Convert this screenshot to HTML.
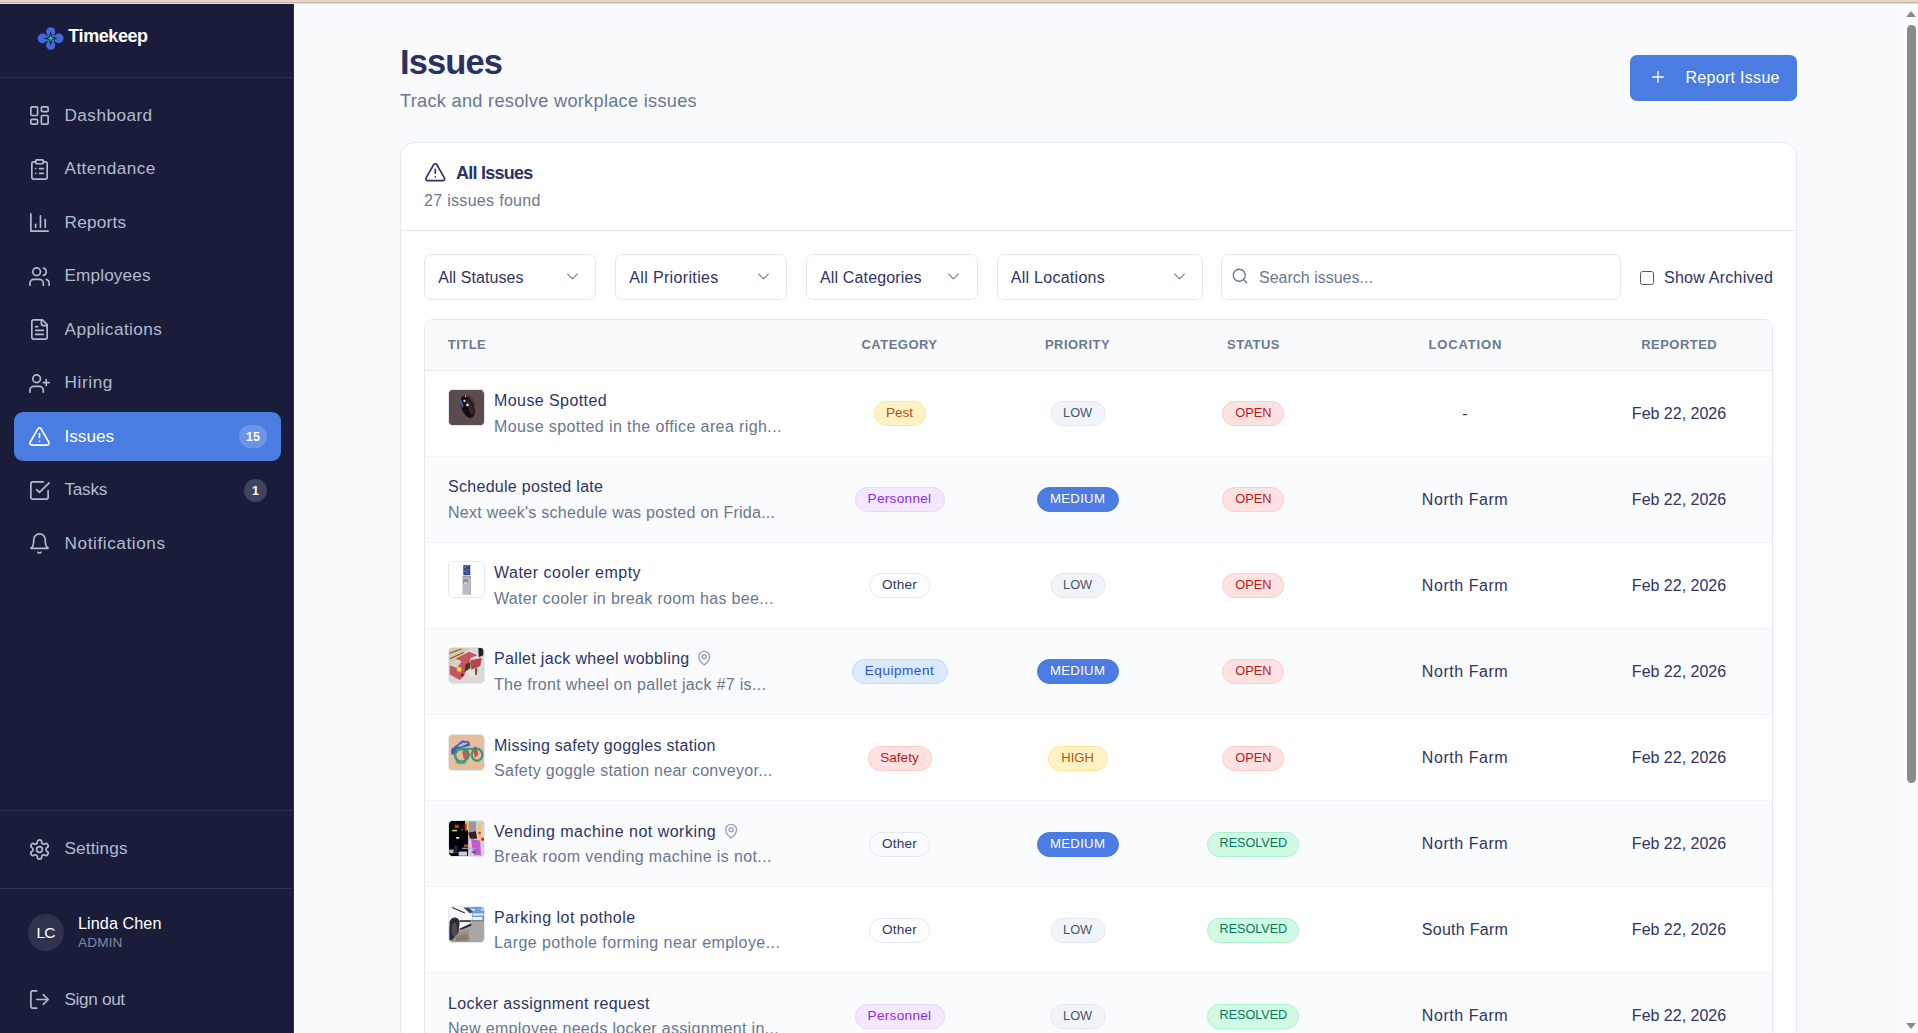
<!DOCTYPE html>
<html lang="en">
<head>
<meta charset="utf-8">
<title>Issues - Timekeep</title>
<style>
*{box-sizing:border-box;margin:0;padding:0}
html,body{width:1918px;height:1033px;overflow:hidden}
body{position:relative;background:#f8fafc;font-family:"Liberation Sans","DejaVu Sans",sans-serif;color:#2e3563}
svg{display:block}
.ic{fill:none;stroke:currentColor;stroke-width:1.75;stroke-linecap:round;stroke-linejoin:round}
.strip{position:absolute;left:0;top:0;width:1918px;height:4px;background:#e3d6c6}
.strip i{position:absolute;left:0;top:2px;width:100%;height:1px;background:#c4b8a8}
.strip b{position:absolute;left:0;top:3px;width:100%;height:1px;background:#e9dccb}
.side{position:absolute;left:0;top:4px;width:294px;height:1029px;background:#1a1d39;color:#b2bbcf}
.side .edge{position:absolute;left:293px;top:0;width:2px;height:1029px;background:linear-gradient(90deg,#272b46 50%,#fff 50%)}
.logo{position:absolute;left:0;top:0;width:294px;height:74px;border-bottom:1px solid #2d3150}
.logo svg{position:absolute;left:37px;top:22px}
.logo span{position:absolute;left:68.3px;top:20.5px;font-size:18px;line-height:22px;font-weight:700;color:#fff;letter-spacing:-0.42px}
.nav{position:absolute;left:14px;width:267px;height:49px;border-radius:9px}
.nav svg{position:absolute;left:14px;top:13px;width:23px;height:23px}
.nav span{position:absolute;left:50.5px;top:12.5px;font-size:17.2px;line-height:22px;white-space:nowrap}
.nav.act{background:#4a7ce2;color:#fff}
.nav em{position:absolute;right:14px;top:13px;height:23px;min-width:23px;border-radius:12px;font-style:normal;font-weight:700;font-size:12.5px;line-height:24px;text-align:center;color:#fff;padding:0 7px}
.sep{position:absolute;left:0;width:294px;height:1px;background:#2d3150}
.ava{position:absolute;left:28px;top:910px;width:36px;height:37px;border-radius:50%;background:#30334d;color:#fff;font-size:15.5px;letter-spacing:-1px;text-indent:-1px;line-height:37px;text-align:center}
.uname{position:absolute;left:78px;top:908px;font-size:16.2px;line-height:22px;color:#fff;white-space:nowrap;letter-spacing:.07px}
.urole{position:absolute;left:78px;top:930px;font-size:13.6px;line-height:18px;color:#8089a0;white-space:nowrap;letter-spacing:.16px}
.sb{position:absolute;left:1903px;top:4px;width:15px;height:1029px;background:#fcfcfc}
.sb .thumb{position:absolute;left:4px;top:21px;width:9px;height:758px;border-radius:5px;background:#8b8b8b}
.sb .up{position:absolute;left:2.8px;top:6.8px;width:0;height:0;border-left:5.8px solid transparent;border-right:5.8px solid transparent;border-bottom:6.2px solid #8b8b8b}
.sb .dn{position:absolute;left:2.8px;top:1019px;width:0;height:0;border-left:5.8px solid transparent;border-right:5.8px solid transparent;border-top:6.2px solid #8b8b8b}
h1{position:absolute;left:400px;top:40.5px;font-size:34.5px;line-height:42px;font-weight:700;color:#2b3263;letter-spacing:-0.9px;white-space:nowrap}
.sub{position:absolute;left:400px;top:88.7px;font-size:18.2px;line-height:24px;color:#68778f;white-space:nowrap;letter-spacing:.28px}
.btn{position:absolute;left:1630px;top:55px;width:167px;height:46px;border-radius:7px;background:#4a7ce2;color:#fff}
.btn svg{position:absolute;left:18.5px;top:13.3px;width:18px;height:18px}
.btn span{position:absolute;left:55.5px;top:12px;font-size:16px;line-height:22px;white-space:nowrap;letter-spacing:.3px}
.card{position:absolute;left:400px;top:142px;width:1397px;height:1000px;background:#fff;border:1px solid #e2e8f0;border-radius:14px}
.chead{position:absolute;left:0;top:0;width:1395px;height:88px;border-bottom:1px solid #e2e8f0}
.chead svg{position:absolute;left:22.5px;top:17.8px;width:22.5px;height:22.5px;color:#2b3263}
.chead h2{position:absolute;left:55px;top:18px;font-size:18px;line-height:24px;font-weight:700;color:#2b3263;white-space:nowrap;letter-spacing:-.75px}
.chead p{position:absolute;left:23px;top:47px;font-size:16px;line-height:22px;color:#68778f;white-space:nowrap;letter-spacing:.31px}
.sel{position:absolute;top:111px;height:46px;border:1px solid #e2e8f0;border-radius:7px;background:#fff}
.sel span{position:absolute;left:13px;top:12px;font-size:16px;line-height:22px;color:#2e3563;white-space:nowrap}
.sel svg{position:absolute;right:13.3px;top:12.3px;width:19px;height:19px;color:#7a849c}
.srch{position:absolute;left:820px;top:111px;width:400px;height:46px;border:1px solid #e2e8f0;border-radius:7px;background:#fff}
.srch svg{position:absolute;left:9px;top:12px;width:18px;height:18px;color:#68778f}
.srch span{position:absolute;left:37px;top:12px;font-size:16px;line-height:22px;color:#68778f;white-space:nowrap}
.cb{position:absolute;left:1238.5px;top:128px;width:14px;height:14px;border:1.2px solid #555b66;border-radius:2.5px;background:#fff}
.cbl{position:absolute;left:1263px;top:124px;font-size:16px;line-height:22px;color:#2e3563;white-space:nowrap;letter-spacing:.25px}
.tbl{position:absolute;left:23px;top:176px;width:1349px;height:900px;border:1px solid #e2e8f0;border-radius:9px;overflow:hidden}
.th{position:absolute;left:0;top:0;width:1347px;height:51px;background:#f8fafc;border-bottom:1px solid #e2e8f0}
.th span{position:absolute;top:15.7px;font-size:13px;line-height:18px;font-weight:700;letter-spacing:0.47px;color:#6a7990;white-space:nowrap;transform:translateX(-50%)}
.row{position:absolute;left:0;width:1347px;height:86px;border-bottom:1px solid #f0f4f8;background:#fff}
.row.alt{background:#fafbfd}
.row .im{position:absolute;left:23px;top:18px;width:37px;height:37px;border-radius:5px;overflow:hidden;border:1px solid #e2e8f0}
.row .t{position:absolute;top:19px;font-size:16px;line-height:22px;color:#2e3563;white-space:nowrap}
.row .d{position:absolute;top:45px;font-size:16px;line-height:22px;color:#68778f;white-space:nowrap}
.row .t svg{display:inline-block;vertical-align:-2.6px;margin-left:6.3px;width:16.3px;height:16.3px;color:#94a1b6;stroke-width:2}
.l0{left:23px}.l1{left:69px}
.pill{position:absolute;top:30px;height:25px;border-radius:13px;border:1px solid;font-size:13.6px;line-height:21.6px;padding:0;text-align:center;white-space:nowrap;transform:translateX(-50%)}
.c1{left:474.5px}.c2{left:652.6px}.c3{left:828.4px}
.loc{position:absolute;top:32px;left:1040px;transform:translateX(-50%);font-size:16px;line-height:22px;white-space:nowrap}
.dt{position:absolute;top:32px;left:1254px;transform:translateX(-50%);font-size:16px;line-height:22px;white-space:nowrap}
.pest,.high{background:#fef3c7;border-color:#fde68a;color:#b45309}
.pers{background:#f3e8ff;border-color:#e9d5ff;color:#8a2be2}
.oth{background:transparent;border-color:#e2e8f0;color:#2e3563}
.equ{background:#dbeafe;border-color:#bfdbfe;color:#2a52d6}
.saf,.open{background:#fee2e2;border-color:#fecaca;color:#b91c1c}
.low{background:#f1f5f9;border-color:#e2e8f0;color:#475569}
.med{background:#4a7ce2;border-color:#4a7ce2;color:#fff}
.res{background:#d1fae5;border-color:#a7f3d0;color:#047857}
.pest{width:52px}.pers{width:90px;letter-spacing:.3px}.oth{width:61.5px;letter-spacing:.2px}.equ{width:96px;letter-spacing:.5px}.saf{width:64px}
.low{width:55px;font-size:12.8px}.med{width:82px;font-size:13.2px;letter-spacing:.3px}.high{width:60px;font-size:13px}
.open{width:62px;font-size:12.8px}.res{width:92px;font-size:12.6px}
.im1{background:#5c4b4d}.im3{background:#dbd8d6}.im4{background:#e4be9d}.im5{background:#3a3038}.im6{background:#b4b2b0}
.im1 svg,.im3 svg,.im4 svg,.im5 svg,.im6 svg{filter:blur(.45px)}
</style>
</head>
<body>
<div class="strip"><i></i><b></b></div>
<div class="side">
<div class="logo"><svg width="27" height="25" viewBox="0 0 27 25"><g fill="#4169e1"><circle cx="13.7" cy="5.8" r="4.6"/><circle cx="13.7" cy="19.2" r="4.6"/><circle cx="5.5" cy="12.4" r="4.8"/><circle cx="21.7" cy="12.4" r="4.8"/><circle cx="13.7" cy="12.4" r="4.5"/></g><path d="M13.70 5.10 L15.36 10.74 L21.00 12.40 L15.36 14.06 L13.70 19.70 L12.04 14.06 L6.40 12.40 L12.04 10.74Z" fill="#1a1d39"/><path d="M13.70 9.10 L14.76 11.34 L17.00 12.40 L14.76 13.46 L13.70 15.70 L12.64 13.46 L10.40 12.40 L12.64 11.34Z" fill="#35b57c"/></svg><span>Timekeep</span></div>
<div class="nav" style="top:87px"><svg class="ic" viewBox="0 0 24 24"><rect width="7" height="9" x="3" y="3" rx="1"/><rect width="7" height="5" x="14" y="3" rx="1"/><rect width="7" height="9" x="14" y="12" rx="1"/><rect width="7" height="5" x="3" y="16" rx="1"/></svg><span style="letter-spacing:0.45px">Dashboard</span></div>
<div class="nav" style="top:140.5px"><svg class="ic" viewBox="0 0 24 24"><rect width="8" height="4" x="8" y="2" rx="1" ry="1"/><path d="M16 4h2a2 2 0 0 1 2 2v14a2 2 0 0 1-2 2H6a2 2 0 0 1-2-2V6a2 2 0 0 1 2-2h2"/><path d="M12 11h4"/><path d="M12 16h4"/><path d="M8 11h.01"/><path d="M8 16h.01"/></svg><span style="letter-spacing:0.43px">Attendance</span></div>
<div class="nav" style="top:194px"><svg class="ic" viewBox="0 0 24 24"><path d="M3 3v18h18"/><path d="M18 17V9"/><path d="M13 17V5"/><path d="M8 17v-3"/></svg><span style="letter-spacing:0.23px">Reports</span></div>
<div class="nav" style="top:247.5px"><svg class="ic" viewBox="0 0 24 24"><path d="M16 21v-2a4 4 0 0 0-4-4H6a4 4 0 0 0-4 4v2"/><circle cx="9" cy="7" r="4"/><path d="M22 21v-2a4 4 0 0 0-3-3.87"/><path d="M16 3.13a4 4 0 0 1 0 7.75"/></svg><span style="letter-spacing:0.13px">Employees</span></div>
<div class="nav" style="top:301px"><svg class="ic" viewBox="0 0 24 24"><path d="M15 2H6a2 2 0 0 0-2 2v16a2 2 0 0 0 2 2h12a2 2 0 0 0 2-2V7Z"/><path d="M14 2v4a2 2 0 0 0 2 2h4"/><path d="M10 9H8"/><path d="M16 13H8"/><path d="M16 17H8"/></svg><span style="letter-spacing:0.43px">Applications</span></div>
<div class="nav" style="top:354.5px"><svg class="ic" viewBox="0 0 24 24"><path d="M16 21v-2a4 4 0 0 0-4-4H6a4 4 0 0 0-4 4v2"/><circle cx="9" cy="7" r="4"/><path d="M19 8v6"/><path d="M22 11h-6"/></svg><span style="letter-spacing:0.6px">Hiring</span></div>
<div class="nav act" style="top:408px"><svg class="ic" viewBox="0 0 24 24"><path d="m21.73 18-8-14a2 2 0 0 0-3.48 0l-8 14A2 2 0 0 0 4 21h16a2 2 0 0 0 1.73-3"/><path d="M12 9v4"/><path d="M12 17h.01"/></svg><span style="letter-spacing:0.0px">Issues</span><em style="background:#6c94e8">15</em></div>
<div class="nav" style="top:461.5px"><svg class="ic" viewBox="0 0 24 24"><path d="m9 11 3 3L22 4"/><path d="M21 12v7a2 2 0 0 1-2 2H5a2 2 0 0 1-2-2V5a2 2 0 0 1 2-2h11"/></svg><span style="letter-spacing:-0.28px">Tasks</span><em style="background:#40435c">1</em></div>
<div class="nav" style="top:515px"><svg class="ic" viewBox="0 0 24 24"><path d="M6 8a6 6 0 0 1 12 0c0 7 3 9 3 9H3s3-2 3-9"/><path d="M10.3 21a1.94 1.94 0 0 0 3.4 0"/></svg><span style="letter-spacing:0.58px">Notifications</span></div>
<div class="sep" style="top:806px"></div>
<div class="nav" style="top:820.5px"><svg class="ic" viewBox="0 0 24 24"><path d="M12.22 2h-.44a2 2 0 0 0-2 2v.18a2 2 0 0 1-1 1.73l-.43.25a2 2 0 0 1-2 0l-.15-.08a2 2 0 0 0-2.73.73l-.22.38a2 2 0 0 0 .73 2.73l.15.1a2 2 0 0 1 1 1.72v.51a2 2 0 0 1-1 1.74l-.15.09a2 2 0 0 0-.73 2.73l.22.38a2 2 0 0 0 2.73.73l.15-.08a2 2 0 0 1 2 0l.43.25a2 2 0 0 1 1 1.73V20a2 2 0 0 0 2 2h.44a2 2 0 0 0 2-2v-.18a2 2 0 0 1 1-1.73l.43-.25a2 2 0 0 1 2 0l.15.08a2 2 0 0 0 2.73-.73l.22-.39a2 2 0 0 0-.73-2.73l-.15-.08a2 2 0 0 1-1-1.74v-.5a2 2 0 0 1 1-1.74l.15-.09a2 2 0 0 0 .73-2.73l-.22-.38a2 2 0 0 0-2.73-.73l-.15.08a2 2 0 0 1-2 0l-.43-.25a2 2 0 0 1-1-1.73V4a2 2 0 0 0-2-2z"/><circle cx="12" cy="12" r="3"/></svg><span style="letter-spacing:0.13px">Settings</span></div>
<div class="sep" style="top:884px"></div>
<div class="ava">LC</div><div class="uname">Linda Chen</div><div class="urole">ADMIN</div>
<div class="nav" style="top:971px"><svg class="ic" viewBox="0 0 24 24"><path d="M9 21H5a2 2 0 0 1-2-2V5a2 2 0 0 1 2-2h4"/><path d="m16 17 5-5-5-5"/><path d="M21 12H9"/></svg><span style="letter-spacing:-0.35px">Sign out</span></div>
<div class="edge"></div></div>
<h1>Issues</h1>
<div class="sub">Track and resolve workplace issues</div>
<div class="btn"><svg class="ic" viewBox="0 0 24 24"><path d="M5 12h14"/><path d="M12 5v14"/></svg><span>Report Issue</span></div>
<div class="card">
<div class="chead"><svg class="ic" viewBox="0 0 24 24"><path d="m21.73 18-8-14a2 2 0 0 0-3.48 0l-8 14A2 2 0 0 0 4 21h16a2 2 0 0 0 1.73-3"/><path d="M12 9v4"/><path d="M12 17h.01"/></svg><h2>All Issues</h2><p>27 issues found</p></div>
<div class="sel" style="left:23.2px;width:171.8px"><span style="letter-spacing:.08px">All Statuses</span><svg class="ic" viewBox="0 0 24 24"><path d="m6 9 6 6 6-6"/></svg></div>
<div class="sel" style="left:214.3px;width:171.5px"><span style="letter-spacing:.35px">All Priorities</span><svg class="ic" viewBox="0 0 24 24"><path d="m6 9 6 6 6-6"/></svg></div>
<div class="sel" style="left:405px;width:171.5px"><span style="letter-spacing:.15px">All Categories</span><svg class="ic" viewBox="0 0 24 24"><path d="m6 9 6 6 6-6"/></svg></div>
<div class="sel" style="left:595.7px;width:206.5px"><span style="letter-spacing:.28px">All Locations</span><svg class="ic" viewBox="0 0 24 24"><path d="m6 9 6 6 6-6"/></svg></div>
<div class="srch"><svg class="ic" viewBox="0 0 24 24"><circle cx="11" cy="11" r="8"/><path d="m21 21-4.3-4.3"/></svg><span>Search issues...</span></div>
<div class="cb"></div><div class="cbl">Show Archived</div>
<div class="tbl">
<div class="th"><span style="left:22.8px;transform:none">TITLE</span><span style="left:474.5px">CATEGORY</span><span style="left:652.5px">PRIORITY</span><span style="left:828.5px">STATUS</span><span style="left:1040.3px;letter-spacing:.84px">LOCATION</span><span style="left:1254.2px">REPORTED</span></div>
<div class="row" style="top:51px"><div class="im im1" style="top:18px"><svg width="35" height="35" viewBox="178 158 700 695" preserveAspectRatio="none"><rect x="178" y="158" width="700" height="695" fill="#5c4b4d"/><g transform="rotate(-22 545 490)"><ellipse cx="548" cy="492" rx="128" ry="232" fill="#1d1517"/><ellipse cx="590" cy="520" rx="60" ry="150" fill="#3a2624"/><ellipse cx="500" cy="560" rx="50" ry="140" fill="#120d10"/></g><path d="M365 330 L420 345 L470 470 L440 520 Z" fill="#3c5f9e"/><circle cx="487" cy="376" r="22" fill="#e8e0e0"/><circle cx="546" cy="456" r="24" fill="#f2ecec"/><circle cx="508" cy="286" r="12" fill="#d8d0d0"/><path d="M560 270 Q680 330 690 470" fill="none" stroke="#4a2e2a" stroke-width="30"/><path d="M835 165 L875 165 L875 235 Z" fill="#e88a7c"/></svg></div><div class="t l1" style="top:19px;letter-spacing:0.42px">Mouse Spotted</div><div class="d l1" style="letter-spacing:0.4px">Mouse spotted in the office area righ...</div><div class="pill c1 pest" style="top:30px">Pest</div><div class="pill c2 low" style="top:30px">LOW</div><div class="pill c3 open" style="top:30px">OPEN</div><div class="loc" style="letter-spacing:0px">-</div><div class="dt">Feb 22, 2026</div></div>
<div class="row alt" style="top:137px"><div class="t l0" style="top:19px;letter-spacing:0.29px">Schedule posted late</div><div class="d l0" style="letter-spacing:0.26px">Next week's schedule was posted on Frida...</div><div class="pill c1 pers" style="top:30px">Personnel</div><div class="pill c2 med" style="top:30px">MEDIUM</div><div class="pill c3 open" style="top:30px">OPEN</div><div class="loc" style="letter-spacing:0.54px">North Farm</div><div class="dt">Feb 22, 2026</div></div>
<div class="row" style="top:223px"><div class="im im2" style="top:18px"><svg width="35" height="35" viewBox="160 140 725 730" preserveAspectRatio="none"><rect x="160" y="140" width="725" height="730" fill="#fff"/><rect x="455" y="200" width="146" height="216" rx="14" fill="#34498a"/><path d="M470 250h40M520 300h50M480 340h40M530 370h30M500 220h60" stroke="#8fa0cf" stroke-width="16"/><rect x="440" y="430" width="172" height="392" rx="8" fill="#b9bcc2"/><rect x="440" y="430" width="172" height="30" fill="#9a9da4"/><rect x="452" y="490" width="100" height="120" fill="#8d9096"/><rect x="470" y="560" width="70" height="45" fill="#d9dbe0"/><rect x="596" y="430" width="16" height="392" fill="#a3a6ad"/><circle cx="480" cy="545" r="8" fill="#d05060"/><circle cx="520" cy="545" r="8" fill="#5070c0"/></svg></div><div class="t l1" style="top:19px;letter-spacing:0.5px">Water cooler empty</div><div class="d l1" style="letter-spacing:0.34px">Water cooler in break room has bee...</div><div class="pill c1 oth" style="top:30px">Other</div><div class="pill c2 low" style="top:30px">LOW</div><div class="pill c3 open" style="top:30px">OPEN</div><div class="loc" style="letter-spacing:0.54px">North Farm</div><div class="dt">Feb 22, 2026</div></div>
<div class="row alt" style="top:309px"><div class="im im3" style="top:18px"><svg width="35" height="35" viewBox="165 150 710 715" preserveAspectRatio="none"><rect x="165" y="150" width="710" height="715" fill="#dbd8d6"/><path d="M165 150H460L475 270L215 480H165Z" fill="#dcc8a2"/><path d="M175 255L420 170M185 370L470 235" stroke="#6e5a3c" stroke-width="22"/><path d="M440 160H600L470 250Z" fill="#cfc5b0"/><path d="M760 150H860V300L770 340Z" fill="#241f22"/><path d="M300 370L570 225L745 300L610 350L470 720L385 805L180 690V500L330 560L420 420Z" fill="#c5555f"/><path d="M200 480L330 400L400 430L340 540Z" fill="#d6d2d0"/><path d="M600 400L830 355L800 520L620 600Z" fill="#b8434c"/><path d="M500 480L600 430V560L480 640Z" fill="#4a3626"/><path d="M540 640L700 560L760 700L600 760Z" fill="#e8e4e0"/><path d="M690 570L740 560L730 700L695 700Z" fill="#6b5a2a"/><circle cx="372" cy="587" r="48" fill="#f0e62c"/><path d="M400 700L470 660L440 730Z" fill="#2a1d1d"/></svg></div><div class="t l1" style="top:19px;letter-spacing:0.34px">Pallet jack wheel wobbling<svg class="ic" viewBox="0 0 24 24"><path d="M20 10c0 6-8 12-8 12s-8-6-8-12a8 8 0 0 1 16 0Z"/><circle cx="12" cy="10" r="3"/></svg></div><div class="d l1" style="letter-spacing:0.32px">The front wheel on pallet jack #7 is...</div><div class="pill c1 equ" style="top:30px">Equipment</div><div class="pill c2 med" style="top:30px">MEDIUM</div><div class="pill c3 open" style="top:30px">OPEN</div><div class="loc" style="letter-spacing:0.54px">North Farm</div><div class="dt">Feb 22, 2026</div></div>
<div class="row" style="top:395px"><div class="im im4" style="top:19px"><svg width="35" height="35" viewBox="178 180 695 680" preserveAspectRatio="none"><rect x="178" y="180" width="695" height="680" fill="#e4be9d"/><path d="M220 455L440 285L580 305L600 390L430 430L290 560H225Z" fill="#3f5fae"/><path d="M330 400L470 320L560 340L420 410Z" fill="#a9b6da"/><path d="M440 500L560 470L600 560L560 660L470 640Z" fill="#d2524a"/><path d="M660 420L720 400L760 560L690 620Z" fill="#cf4a40"/><ellipse cx="425" cy="575" rx="125" ry="125" fill="none" stroke="#3c9679" stroke-width="50"/><ellipse cx="735" cy="565" rx="105" ry="115" fill="none" stroke="#3c9679" stroke-width="46"/><path d="M330 450H790" stroke="#3c9679" stroke-width="40"/><path d="M310 700Q420 760 520 700" stroke="#56a88c" stroke-width="40" fill="none"/></svg></div><div class="t l1" style="top:20px;letter-spacing:0.27px">Missing safety goggles station</div><div class="d l1" style="letter-spacing:0.28px">Safety goggle station near conveyor...</div><div class="pill c1 saf" style="top:31px">Safety</div><div class="pill c2 high" style="top:31px">HIGH</div><div class="pill c3 open" style="top:31px">OPEN</div><div class="loc" style="letter-spacing:0.54px">North Farm</div><div class="dt">Feb 22, 2026</div></div>
<div class="row alt" style="top:481px"><div class="im im5" style="top:19px"><svg width="35" height="35" viewBox="178 180 700 675" preserveAspectRatio="none"><rect x="178" y="180" width="700" height="675" fill="#050305"/><rect x="560" y="180" width="318" height="675" fill="#d9cfd6"/><rect x="500" y="180" width="70" height="180" fill="#e8d23a"/><rect x="490" y="230" width="40" height="120" fill="#c8281e"/><rect x="570" y="190" width="150" height="200" fill="#9c9698"/><path d="M290 250L370 250L380 310L300 320Z" fill="#d8301c"/><rect x="240" y="350" width="100" height="30" fill="#c8d85a"/><rect x="420" y="335" width="40" height="25" fill="#2f9a3c"/><rect x="320" y="490" width="60" height="30" fill="#fff"/><path d="M560 400L720 380L740 520L600 520Z" fill="#3a1c24"/><path d="M620 520L800 560L820 840L680 840L640 700Z" fill="#c45cc8"/><rect x="760" y="230" width="60" height="300" fill="#e6c76a"/><circle cx="850" cy="530" r="30" fill="#d8202a"/><circle cx="790" cy="410" r="25" fill="#c83030"/><rect x="440" y="695" width="270" height="22" fill="#9fb0d0"/><rect x="370" y="770" width="170" height="80" fill="#c8ccd8"/><rect x="180" y="730" width="90" height="70" fill="#b9b2a0"/><rect x="280" y="650" width="70" height="150" fill="#1c2440"/><rect x="480" y="635" width="80" height="40" fill="#c8506a"/><rect x="630" y="770" width="90" height="22" fill="#2838a0"/></svg></div><div class="t l1" style="top:20px;letter-spacing:0.49px">Vending machine not working<svg class="ic" viewBox="0 0 24 24"><path d="M20 10c0 6-8 12-8 12s-8-6-8-12a8 8 0 0 1 16 0Z"/><circle cx="12" cy="10" r="3"/></svg></div><div class="d l1" style="letter-spacing:0.38px">Break room vending machine is not...</div><div class="pill c1 oth" style="top:31px">Other</div><div class="pill c2 med" style="top:31px">MEDIUM</div><div class="pill c3 res" style="top:31px">RESOLVED</div><div class="loc" style="letter-spacing:0.54px">North Farm</div><div class="dt">Feb 22, 2026</div></div>
<div class="row" style="top:567px"><div class="im im6" style="top:19px"><svg width="35" height="35" viewBox="170 170 705 695" preserveAspectRatio="none"><rect x="170" y="170" width="705" height="695" fill="#a9a6a4"/><rect x="590" y="170" width="285" height="275" fill="#6d9ddb"/><path d="M600 210H690V240H600ZM650 300H860V340H650ZM640 370H840V430H640ZM810 215H870V240H810Z" fill="#eef1f6"/><path d="M170 170H600L640 330L620 480L400 590L170 560Z" fill="#f7f7f7"/><path d="M235 180L490 290" stroke="#3a3436" stroke-width="22"/><path d="M460 180H580L650 270L590 300Z" fill="#3c4a62"/><path d="M380 430H620V470H380Z" fill="#4a4a4c"/><path d="M400 590L620 500V540L400 630Z" fill="#2c2c2e"/><path d="M180 470Q200 380 300 380Q390 390 380 520L350 760L240 830H180Z" fill="#2b2c30"/><ellipse cx="280" cy="620" rx="60" ry="140" fill="#4c4f58"/><rect x="630" y="436" width="245" height="18" fill="#8a6f4a"/><path d="M360 680L560 600L600 860H200Z" fill="#9c9288"/><path d="M330 740L540 700L560 820L300 850Z" fill="#8c7c6a"/></svg></div><div class="t l1" style="top:20px;letter-spacing:0.48px">Parking lot pothole</div><div class="d l1" style="letter-spacing:0.43px">Large pothole forming near employe...</div><div class="pill c1 oth" style="top:31px">Other</div><div class="pill c2 low" style="top:31px">LOW</div><div class="pill c3 res" style="top:31px">RESOLVED</div><div class="loc" style="letter-spacing:0.28px">South Farm</div><div class="dt">Feb 22, 2026</div></div>
<div class="row alt" style="top:653px"><div class="t l0" style="top:20px;letter-spacing:0.39px">Locker assignment request</div><div class="d l0" style="letter-spacing:0.32px">New employee needs locker assignment in...</div><div class="pill c1 pers" style="top:31px">Personnel</div><div class="pill c2 low" style="top:31px">LOW</div><div class="pill c3 res" style="top:31px">RESOLVED</div><div class="loc" style="letter-spacing:0.54px">North Farm</div><div class="dt">Feb 22, 2026</div></div>
</div>
</div>
<div class="sb"><div class="up"></div><div class="thumb"></div><div class="dn"></div></div>
</body>
</html>
